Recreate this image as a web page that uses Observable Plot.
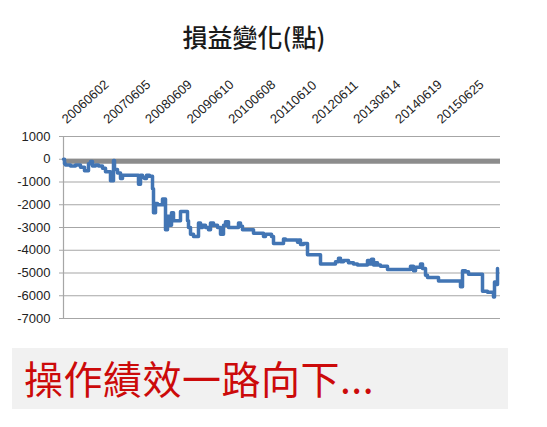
<!DOCTYPE html>
<html>
<head>
<meta charset="utf-8">
<script src="https://cdn.jsdelivr.net/npm/d3@7"></script>
<script src="https://cdn.jsdelivr.net/npm/@observablehq/plot@0.6"></script>
<style>
  html, body { margin: 0; padding: 0; background: #fff; width: 547px; height: 427px; overflow: hidden; }
  #wrap { position: relative; width: 547px; height: 427px; }
  #title { position: absolute; left: 0; width: 508px; top: 24px; text-align: center;
    font-family: "Noto Sans CJK TC", "Noto Sans", sans-serif; font-size: 25px; font-weight: 500; color: #1a1a1a; line-height: 1; }
  #chart { position: absolute; left: 0; top: 0; }
  #banner { position: absolute; left: 12px; top: 348px; width: 496px; height: 61px; background: #f1f1f1; }
  #banner span { position: absolute; left: 12px; top: 6px; font-family: "Noto Sans CJK TC", sans-serif;
    font-size: 39px; line-height: 1.2; color: #cc0a0a; font-weight: 400; letter-spacing: 0.5px; white-space: nowrap; }
</style>
</head>
<body>
<div id="wrap">
  <div id="chart"></div>
  <div id="title">損益變化(點)</div>
  <div id="banner"><span>操作績效一路向下...</span></div>
</div>
<script>
// Trading-day index (category position) and cumulative P&L in points
const dayIndex = [0,6,12,42,72,102,126,150,162,174,192,210,234,252,282,300,306,324,342,354,372,450,462,474,486,498,516,534,540,552,564,594,612,624,636,648,660,672,702,714,744,750,762,780,792,810,822,834,852,870,882,900,924,942,960,972,990,1002,1050,1062,1074,1092,1140,1164,1200,1212,1248,1260,1272,1320,1332,1404,1410,1422,1440,1464,1482,1542,1560,1632,1650,1662,1680,1710,1740,1764,1800,1824,1836,1848,1860,1872,1884,1902,1944,1962,2082,2100,2112,2142,2154,2172,2184,2202,2250,2262,2382,2394,2412,2430,2442,2514,2544,2580,2586,2598,2604,2610];
const pnl = [0,-200,-250,-300,-250,-350,-500,-200,-100,-300,-250,-300,-400,-550,-950,-50,-450,-600,-850,-700,-700,-1100,-700,-800,-850,-700,-750,-1300,-2350,-1950,-2000,-1750,-3100,-2500,-2900,-2350,-2700,-2700,-2300,-2300,-2700,-3000,-3300,-3400,-3400,-2800,-3000,-2900,-3000,-3100,-2800,-2900,-3000,-3300,-2900,-2750,-3000,-3000,-2800,-2950,-3100,-3100,-3250,-3250,-3400,-3300,-3400,-3700,-3700,-3500,-3550,-3650,-3550,-3750,-3700,-4200,-4200,-4600,-4600,-4500,-4350,-4500,-4450,-4550,-4600,-4650,-4650,-4450,-4600,-4400,-4650,-4550,-4650,-4700,-4850,-4850,-4700,-4900,-4750,-4600,-4800,-5100,-5200,-5200,-5350,-5350,-5600,-4900,-4950,-5050,-5050,-5800,-5850,-6050,-5400,-5500,-4800];

// Category tick labels (every 250 trading days)
const tickIndex = [0,250,500,750,1000,1250,1500,1750,2000,2250];
const tickLabels = ["20060602","20070605","20080609","20090610","20100608","20110610","20120611","20130614","20140619","20150625"];
const yTicks = [1000,0,-1000,-2000,-3000,-4000,-5000,-6000,-7000];

const series = dayIndex.map((d, i) => ({d, v: pnl[i]}));
const ticks = tickIndex.map((d, i) => ({d, label: tickLabels[i]}));

const chart = Plot.plot({
  width: 547,
  height: 330,
  marginLeft: 63,
  marginRight: 47,
  marginTop: 136,
  marginBottom: 12,
  style: {fontFamily: "'Liberation Sans', Arial, sans-serif", fontSize: "12px", color: "#333", background: "transparent"},
  x: {domain: [0, 2622], axis: null},
  y: {domain: [-7000, 1000], ticks: yTicks, tickFormat: d => String(d), tickSize: 4, tickPadding: 9, label: null},
  marks: [
    Plot.gridY(yTicks, {stroke: "#a6a6a6", strokeOpacity: 1, strokeWidth: 1.2}),
    Plot.ruleY([0], {stroke: "#8c8c8c", strokeWidth: 5, dy: 2}),
    Plot.ruleX([0], {stroke: "#a6a6a6", strokeWidth: 1.2}),
    Plot.axisY(yTicks, {tickSize: 4, tickPadding: 9, tickFormat: d => String(d), fontSize: 13, stroke: "#a6a6a6", fill: "#222", label: null}),
    Plot.text(ticks, {x: "d", frameAnchor: "top", text: "label", rotate: -42, textAnchor: "start", dx: -3, dy: -19, fontSize: 13, fill: "#222"}),
    Plot.line(series, {x: "d", y: "v", curve: "step-after", stroke: "#4275b4", strokeWidth: 3.5, strokeLinejoin: "round"})
  ]
});
document.getElementById("chart").appendChild(chart);
</script>
</body>
</html>
